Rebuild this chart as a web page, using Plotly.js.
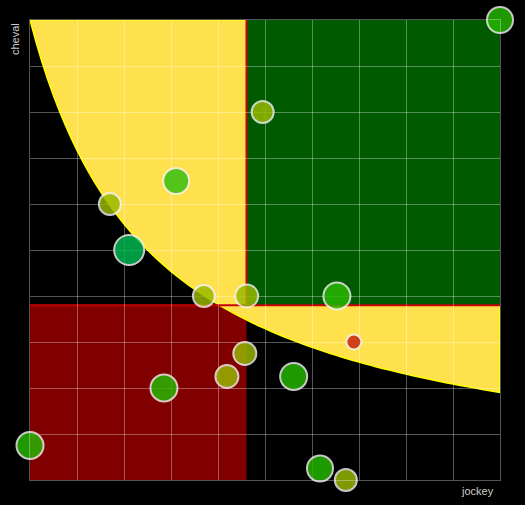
<!DOCTYPE html>
<html>
<head>
<meta charset="utf-8">
<script src="https://cdn.plot.ly/plotly-3.0.1.min.js"></script>
<style>
  html, body { margin: 0; padding: 0; background: #000; }
  #chart { width: 525px; height: 505px; }
</style>
</head>
<body>
<div id="chart"></div>
<script>
// Data (jockey score vs cheval score)
const jockey = [10, 4.95, 3.11, 1.70, 2.11, 3.70, 4.61, 6.53, 6.89, 4.57, 4.19, 5.61, 2.85, 0, 6.17, 6.72];
const cheval = [10, 8.0, 6.5, 6.0, 5.0, 4.0, 4.0, 4.0, 3.0, 2.75, 2.25, 2.25, 2.0, 0.75, 0.25, 0.0];
const pointSizes = [26, 22, 26, 22, 30, 22, 23, 27, 15, 23, 23, 27, 27, 27, 26, 22];
const pointColors = ['#26b900', '#99b900', '#32be10', '#99b900', '#00b952', '#99b900', '#99b900', '#29ba00',
                     '#c8200f', '#99b900', '#99b900', '#26b900', '#26b900', '#26b900', '#26b900', '#99b900'];

// Threshold curve (x + A)(y + B) = K through the top-left corner
const curveA = 2.6, curveB = 0.2;
const xMin = 0, xMax = 10, yMin = 0, yMax = 10;
const curveK = (xMin + curveA) * (yMax + curveB);

const meanX = jockey.reduce((a, b) => a + b, 0) / jockey.length;
const meanY = cheval.reduce((a, b) => a + b, 0) / cheval.length;

function curveY(x) { return curveK / (x + curveA) - curveB; }

let path = 'M' + xMin + ',' + yMax;
const n = 80;
for (let i = 1; i <= n; i++) {
  const x = xMin + (xMax - xMin) * i / n;
  path += ' L' + x.toFixed(4) + ',' + curveY(x).toFixed(4);
}
path += ' L' + xMax + ',' + yMax + ' Z';

const shapes = [
  { type: 'rect', xref: 'x', yref: 'y', x0: xMin, x1: meanX, y0: yMin, y1: meanY,
    fillcolor: '#800000', line: { width: 0 }, layer: 'below' },
  { type: 'path', xref: 'x', yref: 'y', path: path,
    fillcolor: '#ffe14d', line: { color: '#ffff00', width: 1.5 }, layer: 'below' },
  { type: 'rect', xref: 'x', yref: 'y', x0: meanX, x1: xMax, y0: meanY, y1: yMax,
    fillcolor: '#005a00', line: { width: 0 }, layer: 'below' },
  { type: 'line', xref: 'x', yref: 'y', x0: xMin, x1: xMax, y0: meanY, y1: meanY,
    line: { color: '#c80000', width: 2 }, layer: 'below' },
  { type: 'line', xref: 'x', yref: 'y', x0: meanX, x1: meanX, y0: meanY, y1: yMax,
    line: { color: '#c80000', width: 2 }, layer: 'below' }
];

const trace = {
  type: 'scatter', mode: 'markers',
  x: jockey, y: cheval,
  cliponaxis: false,
  hoverinfo: 'none',
  marker: {
    size: pointSizes,
    color: pointColors,
    opacity: 0.83,
    line: { color: '#f0f0f0', width: 2 }
  }
};

const axisCommon = {
  showticklabels: false,
  ticks: '',
  showgrid: true,
  gridcolor: 'rgba(255,255,255,0.33)',
  gridwidth: 1,
  zeroline: false,
  showline: true,
  mirror: true,
  linecolor: 'rgba(255,255,255,0.33)',
  linewidth: 1,
  dtick: 1,
  tick0: 0,
  fixedrange: true
};

const layout = {
  width: 525, height: 505,
  margin: { l: 30, r: 25, t: 20, b: 25, pad: 0 },
  paper_bgcolor: '#000000',
  plot_bgcolor: '#000000',
  showlegend: false,
  font: { family: 'Liberation Sans, Arial, sans-serif', color: '#cccccc', size: 11 },
  xaxis: Object.assign({}, axisCommon, { range: [xMin, xMax] }),
  yaxis: Object.assign({}, axisCommon, { range: [yMin, yMax] }),
  shapes: shapes,
  annotations: [
    { text: 'jockey', xref: 'paper', yref: 'paper', x: 1, y: 0, xanchor: 'right', yanchor: 'top',
      xshift: -4, yshift: -3, showarrow: false, font: { size: 11, color: '#cccccc' } },
    { text: 'cheval', xref: 'paper', yref: 'paper', x: 0, y: 1, xanchor: 'center', yanchor: 'top',
      textangle: -90, xshift: -15, yshift: -1, showarrow: false, font: { size: 11, color: '#cccccc' } }
  ]
};

Plotly.newPlot('chart', [trace], layout, { displayModeBar: false, staticPlot: true });
</script>
</body>
</html>
